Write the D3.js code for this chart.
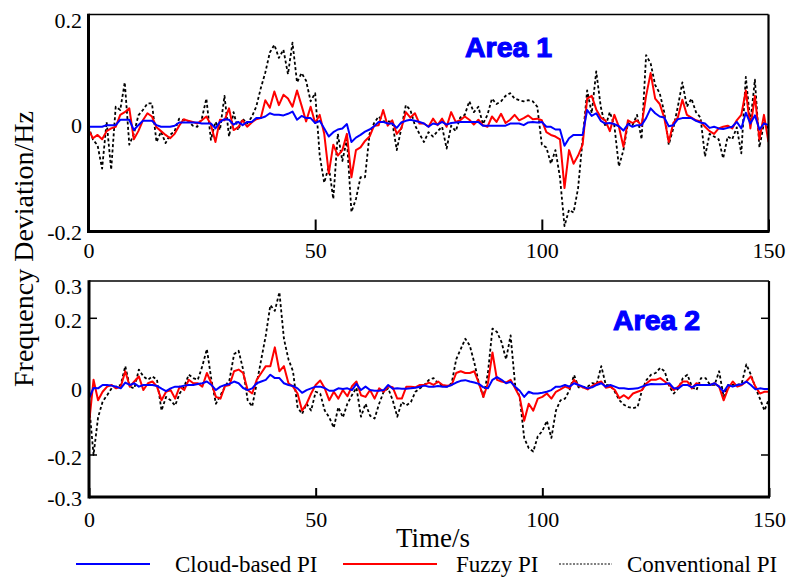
<!DOCTYPE html>
<html>
<head>
<meta charset="utf-8">
<script src="https://cdn.jsdelivr.net/npm/d3@7"></script>
<style>
  html, body { margin: 0; padding: 0; background: #fff; }
  svg { display: block; }
</style>
</head>
<body>
<svg id="chart" width="793" height="577"></svg>
<script>
// time axis, one sample per second
const times = d3.range(0, 151);

const xTicks = [0, 50, 100, 150];

// Area 1
const cloud1 = [
  -0.007, -0.007, -0.007, -0.007, -0.004, -0.004, -0.004, 0.006, 0.006, 0.006,
  -0.013, -0.004, 0.004, 0.004, 0.004, -0.004, -0.007, -0.007, -0.007, -0.005,
  0.001, 0.001, 0.001, 0.001, 0.001, -0.001, -0.001, -0.001, -0.01, 0.002,
  0.007, 0.006, -0.003, 0.002, -0.004, 0.002, 0.002, 0.009, 0.009, 0.012,
  0.018, 0.015, 0.015, 0.014, 0.017, 0.021, 0.006, 0.013, 0.009, 0.009,
  0, 0.004, -0.01, -0.025, -0.017, -0.012, -0.01, -0.002, -0.035, -0.027,
  -0.022, -0.016, -0.012, -0.006, 0.002, 0.002, -0.001, -0.001, -0.009, 0.001,
  0.004, 0.006, 0.004, 0.002, -0.001, -0.007, -0.001, -0.003, 0.002, -0.003,
  0, 0.001, 0.002, 0.002, 0.002, 0.002, 0.002, -0.005, -0.005, -0.005,
  -0.005, -0.005, -0.005, -0.001, -0.001, -0.001, -0.004, 0.001, 0.002, 0.001,
  0.002, -0.007, -0.007, -0.012, -0.012, -0.042, -0.028, -0.022, -0.022, -0.022,
  0.024, 0.013, 0.018, 0.004, -0.001, 0, -0.002, -0.006, -0.014, -0.002,
  -0.007, -0.004, -0.004, 0.009, 0.027, 0.018, 0.012, 0.01, -0.006, -0.004,
  0.007, 0.009, 0.009, 0.009, 0.004, 0.001, -0.001, -0.009, -0.007, -0.01,
  -0.011, -0.009, -0.007, 0.002, -0.01, 0.019, -0.001, 0.014, -0.012, -0.001, -0.004
];
const fuzzy1 = [
  -0.013, -0.028, -0.022, -0.03, -0.015, -0.01, -0.007, 0.015, 0.02, 0.027,
  -0.03, -0.015, 0.005, 0.018, 0.012, -0.008, -0.015, -0.022, -0.028, -0.02,
  -0.005, 0.007, 0.004, 0.002, -0.001, 0.005, 0.012, -0.003, -0.035, 0.006,
  0.005, 0.027, -0.013, -0.008, 0.005, -0.007, 0.001, 0.007, 0.009, 0.042,
  0.028, 0.058, 0.033, 0.052, 0.045, 0.03, 0.06, 0.032, 0.003, 0.03,
  0, 0.015, -0.02, -0.093, -0.04, -0.06, -0.05, -0.02, -0.1, -0.05,
  -0.045, -0.033, -0.025, -0.005, -0.004, 0.024, -0.005, 0.005, -0.02, -0.01,
  0.02, 0.01, 0.018, -0.001, -0.001, -0.007, 0.008, -0.004, 0.008, -0.007,
  0.02, 0.002, 0.005, 0.012, 0.006, -0.003, 0.006, -0.004, -0.007, 0.012,
  0.002, 0.017, 0, 0.006, 0.015, 0.005, 0.009, 0.014, 0.007, 0.008,
  0.005, -0.017, -0.022, -0.025, -0.03, -0.12, -0.05, -0.075, -0.06, -0.04,
  0.045, 0.05, 0.025, 0.01, 0.005, -0.015, 0.015, -0.007, -0.044, 0.005,
  0, 0.005, -0.005, 0.05, 0.092, 0.045, 0.035, 0.01, -0.035, 0,
  0.01, 0.043, 0.015, 0.01, 0.005, 0.003, -0.007, -0.015, -0.02, -0.01,
  -0.007, -0.005, -0.01, 0.005, 0.015, 0.06, -0.01, 0.05, -0.03, 0.015, -0.035
];
const conv1 = [
  -0.007, -0.031, -0.041, -0.084, 0.002, -0.086, 0.03, 0.024, 0.075, -0.04,
  -0.02, 0.014, 0.024, 0.036, 0.036, -0.035, -0.016, -0.037, -0.022, -0.015,
  0.008, 0.005, 0.004, -0.005, -0.007, 0.008, 0.045, -0.031, 0.002, -0.013,
  0.05, -0.025, 0.02, -0.013, 0.008, -0.001, 0.011, 0.03, 0.064, 0.093,
  0.13, 0.144, 0.12, 0.135, 0.09, 0.148, 0.075, 0.092, 0.078, 0.04,
  0.055, -0.06, -0.11, -0.08, -0.14, -0.02, -0.07, -0.03, -0.164, -0.14,
  -0.1, -0.1, -0.02, 0, 0.012, 0.003, 0.003, 0.002, -0.05, -0.01,
  0.033, 0.024, -0.004, -0.02, -0.035, -0.017, -0.025, -0.015, -0.007, -0.047,
  -0.005, -0.015, 0.01, 0.015, 0.04, 0.02, 0.03, -0.002, 0.015, 0.045,
  0.035, 0.04, 0.05, 0.055, 0.045, 0.042, 0.04, 0.042, 0.04, 0.03,
  -0.04, -0.045, -0.075, -0.05, -0.1, -0.19, -0.16, -0.165, -0.12, -0.03,
  0.06, 0.018, 0.095, 0.03, -0.007, 0.02, -0.005, -0.08, -0.05, 0,
  -0.004, 0.015, -0.03, 0.125, 0.11, 0.07, 0.055, 0.02, -0.04, -0.01,
  0.03, 0.075, 0.03, 0.045, 0.02, 0.01, -0.062, -0.02, -0.025, -0.03,
  -0.065, -0.025, -0.03, -0.008, -0.056, 0.085, 0, 0.08, -0.045, 0, -0.01
];

// Area 2
const cloud2 = [
  -0.034, -0.004, -0.005, 0.005, 0.005, 0.003, 0, -0.005, 0.012, 0.005,
  0.01, 0, 0.005, 0.005, 0.005, 0.002, -0.006, -0.013, -0.005, 0,
  0, 0.003, 0.005, 0.005, 0.008, 0.01, 0.015, 0.005, -0.01, 0,
  0.005, 0.008, 0.015, 0.01, -0.004, -0.01, -0.005, 0.01, 0.015, 0.02,
  0.035, 0.025, 0.025, 0.01, 0.005, 0.002, -0.005, -0.018, -0.01, -0.005,
  0, 0, -0.004, -0.012, -0.012, -0.005, -0.007, -0.005, -0.01, 0.008,
  -0.01, 0, -0.01, -0.012, -0.012, -0.01, 0.005, -0.006, -0.005, -0.006,
  -0.006, -0.005, -0.003, 0, 0.003, 0, 0, 0.002, 0, 0,
  0.005, 0.012, 0.017, 0.019, 0.015, 0.012, 0.008, -0.002, -0.005, 0.02,
  0.028, 0.02, 0.01, 0.014, 0, -0.012, -0.03, -0.015, -0.02, -0.02,
  -0.018, -0.015, -0.01, 0, 0, 0.005, 0, 0.01, 0.005, 0,
  -0.005, -0.002, 0.005, 0.01, 0, 0.005, 0, -0.005, -0.005, -0.007,
  -0.006, -0.005, 0, 0.005, 0.008, 0.007, 0.007, 0.008, 0.01, -0.005,
  -0.005, 0.005, 0.005, -0.002, 0.005, 0.005, 0.005, 0.005, 0.01, 0,
  -0.015, 0.005, 0, 0.005, 0.007, 0.015, 0.005, -0.008, -0.005, -0.007, -0.007
];
const fuzzy2 = [
  -0.11, 0.02, -0.04, -0.015, 0, 0.005, -0.005, 0, 0.045, 0,
  0.015, 0.03, -0.01, 0.01, 0.015, 0, -0.04, -0.015, -0.01, -0.035,
  0, -0.01, 0.02, 0.01, 0.01, 0, 0.04, 0.01, -0.03, -0.035,
  0.002, 0.005, 0.045, 0.05, 0.04, -0.01, -0.02, 0.02, 0.04, 0.06,
  0.06, 0.115, 0.045, 0.06, 0.01, 0, -0.02, -0.07, -0.05, -0.02,
  0.005, 0.018, -0.005, -0.04, -0.015, -0.035, -0.01, -0.028, 0.001, 0.015,
  -0.025, -0.03, -0.01, -0.035, -0.005, -0.015, 0.001, -0.002, -0.035, -0.035,
  0, 0, -0.002, 0.005, 0.005, 0.012, 0.005, 0.015, 0.005, 0.003,
  0.005, 0.04, 0.045, 0.04, 0.04, 0.045, 0.01, -0.03, 0.01, 0.1,
  0.02, 0.015, 0.012, 0.02, -0.005, -0.03, -0.1, -0.05, -0.07, -0.035,
  -0.03, -0.02, -0.035, -0.015, -0.008, 0, -0.005, 0.02, 0.003, -0.002,
  -0.008, 0.002, 0.01, 0.015, -0.003, 0, -0.01, -0.034, -0.025, -0.035,
  -0.02, -0.015, -0.01, 0.01, 0.02, 0.02, 0.025, 0.015, 0.005, -0.01,
  0, 0.015, 0.015, -0.005, 0.01, 0.005, 0.005, 0.005, 0.01, 0,
  -0.04, -0.005, 0.015, 0, 0.005, 0.015, 0.03, 0, -0.02, -0.015, -0.015
];
const conv2 = [
  -0.05, -0.2, -0.09, -0.044, -0.025, -0.005, 0, 0.005, 0.06, 0,
  -0.005, 0.05, 0.03, 0.02, 0.03, 0.02, -0.07, -0.03, -0.04, -0.055,
  -0.02, 0, 0.035, 0.025, 0.02, 0.06, 0.11, 0.02, -0.05, -0.025,
  0, 0.02, 0.095, 0.105, 0.05, -0.04, -0.058, 0.01, 0.08, 0.15,
  0.235, 0.22, 0.27, 0.14, 0.08, 0.045, -0.06, -0.08, -0.05, -0.07,
  -0.015, -0.02, -0.07, -0.09, -0.12, -0.06, -0.09, -0.05, -0.025, -0.003,
  -0.088, -0.05, -0.085, -0.093, -0.05, -0.015, -0.005, -0.04, -0.088, -0.045,
  -0.055, -0.045, -0.015, -0.005, 0.005, 0.02, 0.025, 0.01, 0.002, 0,
  0.01, 0.08, 0.11, 0.14, 0.12, 0.07, 0.01, -0.03, 0.04, 0.17,
  0.16, 0.13, 0.08, 0.15, 0.005, -0.03, -0.15, -0.18, -0.19, -0.145,
  -0.13, -0.1, -0.15, -0.07, -0.04, -0.035, -0.01, 0.034, -0.002, -0.002,
  0, 0.01, 0.008, 0.06, 0.005, 0.003, -0.015, -0.04, -0.053, -0.06,
  -0.063, -0.06, -0.01, 0.02, 0.035, 0.04, 0.055, 0.045, 0, -0.02,
  -0.005, 0.025, 0.035, 0, -0.01, 0.025, 0.025, 0.005, 0.005, 0.045,
  -0.03, 0.005, 0.005, 0.005, 0.01, 0.065, 0.035, -0.002, -0.035, -0.07, -0.035
];

const seriesNames = ["Cloud-based PI", "Fuzzy PI", "Conventional PI"];
const seriesColors = ["#0000ff", "#ff0000", "#000000"];

const svg = d3.select("#chart");
svg.append("rect").attr("width", 793).attr("height", 577).attr("fill", "#fff");

const serif = "'Liberation Serif', 'Times New Roman', serif";

const panels = [
  {
    id: "a1", title: "Area 1", left: 88.5, right: 768.5, top: 14.5, bottom: 231.5,
    yDomain: [-0.2, 0, 0.2], yRange: [231.5, 123, 14.5],
    yLabels: [0.2, 0, -0.2], yMarks: [], xTickLen: 12, xPad: 11,
    titleX: 465, titleY: 57,
    data: [conv1, fuzzy1, cloud1]
  },
  {
    id: "a2", title: "Area 2", left: 89, right: 769, top: 281, bottom: 497,
    yDomain: [-0.3, -0.2, 0.2, 0.3], yRange: [497, 455, 318.3, 281],
    yLabels: [0.3, 0.2, 0, -0.2, -0.3], yMarks: [0.2, -0.2], xTickLen: 9, xPad: 14,
    titleX: 613, titleY: 330,
    data: [conv2, fuzzy2, cloud2]
  }
];

panels.forEach(p => {
  const x = d3.scaleLinear().domain([0, 150]).range([p.left, p.right]);
  const y = d3.scaleLinear().domain(p.yDomain).range(p.yRange);
  const g = svg.append("g");

  g.append("clipPath").attr("id", "clip-" + p.id)
    .append("rect")
    .attr("x", p.left).attr("y", p.top)
    .attr("width", p.right - p.left).attr("height", p.bottom - p.top);

  // series: conventional first, cloud-based on top
  const line = d3.line()
    .x((d, i) => x(times[i]))
    .y(d => y(d));

  const order = [2, 1, 0];
  p.data.forEach((vals, k) => {
    const s = order[k];
    g.append("path")
      .datum(vals)
      .attr("clip-path", `url(#clip-${p.id})`)
      .attr("fill", "none")
      .attr("stroke", seriesColors[s])
      .attr("stroke-width", s === 2 ? 1.8 : 2)
      .attr("stroke-dasharray", s === 2 ? "3,2.4" : null)
      .attr("stroke-linejoin", "round")
      .attr("d", line);
  });

  // frame
  g.append("line").attr("x1", p.left).attr("x2", p.right).attr("y1", p.top).attr("y2", p.top)
    .attr("stroke", "#000").attr("stroke-width", 1.6);
  g.append("line").attr("x1", p.right).attr("x2", p.right).attr("y1", p.top).attr("y2", p.bottom)
    .attr("stroke", "#000").attr("stroke-width", 2.2);
  g.append("line").attr("x1", p.left).attr("x2", p.left).attr("y1", p.top - 0.8).attr("y2", p.bottom + 1.5)
    .attr("stroke", "#000").attr("stroke-width", 3);
  g.append("line").attr("x1", p.left).attr("x2", p.right + 1).attr("y1", p.bottom).attr("y2", p.bottom)
    .attr("stroke", "#000").attr("stroke-width", 3);

  // x axis: inward ticks and labels
  const xAxis = d3.axisBottom(x)
    .tickValues(xTicks)
    .tickSizeInner(-p.xTickLen)
    .tickSizeOuter(0)
    .tickPadding(p.xPad)
    .tickFormat(d3.format("d"));
  const ax = g.append("g")
    .attr("transform", `translate(0,${p.bottom})`)
    .call(xAxis);
  ax.select(".domain").remove();
  ax.selectAll(".tick line").attr("stroke", "#000").attr("stroke-width", 2);
  ax.selectAll(".tick text")
    .attr("fill", "#000")
    .style("font-family", serif)
    .style("font-size", "22px");

  // y tick marks (both sides)
  p.yMarks.forEach(v => {
    g.append("line").attr("x1", p.left).attr("x2", p.left + 8).attr("y1", y(v)).attr("y2", y(v))
      .attr("stroke", "#000").attr("stroke-width", 1.5);
    g.append("line").attr("x1", p.right - 8).attr("x2", p.right).attr("y1", y(v)).attr("y2", y(v))
      .attr("stroke", "#000").attr("stroke-width", 1.5);
  });

  // y tick labels
  g.selectAll(".ylab")
    .data(p.yLabels)
    .join("text")
    .attr("class", "ylab")
    .attr("x", 82)
    .attr("y", v => Math.max(p.top + 13, Math.min(p.bottom + 8.5, y(v) + 10)))
    .attr("text-anchor", "end")
    .style("font-family", serif)
    .style("font-size", "22px")
    .text(v => v === 0 ? "0" : d3.format(".1f")(v).replace("−", "-"));

  // panel title
  g.append("text")
    .attr("x", p.titleX)
    .attr("y", p.titleY)
    .attr("fill", "#0000ff")
    .attr("stroke", "#0000ff")
    .attr("stroke-width", 1.1)
    .style("font-family", "'Liberation Sans', Arial, sans-serif")
    .style("font-weight", "bold")
    .style("font-size", "28.5px")
    .text(p.title);
});

// axis titles
svg.append("text")
  .attr("transform", "translate(33,249) rotate(-90)")
  .attr("text-anchor", "middle")
  .style("font-family", serif)
  .style("font-size", "28px")
  .text("Frequency Deviation/Hz");

svg.append("text")
  .attr("x", 433)
  .attr("y", 547)
  .attr("text-anchor", "middle")
  .style("font-family", serif)
  .style("font-size", "27px")
  .text("Time/s");

// legend
const legendX = [[76, 150, 175], [343, 437, 456], [559, 612, 627]];
const legend = svg.append("g");
seriesNames.forEach((name, i) => {
  const [x1, x2, tx] = legendX[i];
  legend.append("line")
    .attr("x1", x1).attr("x2", x2).attr("y1", 564).attr("y2", 564)
    .attr("stroke", seriesColors[i])
    .attr("stroke-width", i === 2 ? 1 : 2)
    .attr("stroke-dasharray", i === 2 ? "2,1.5" : null);
  legend.append("text")
    .attr("x", tx)
    .attr("y", 572)
    .style("font-family", serif)
    .style("font-size", "23px")
    .text(name);
});
</script>
</body>
</html>
